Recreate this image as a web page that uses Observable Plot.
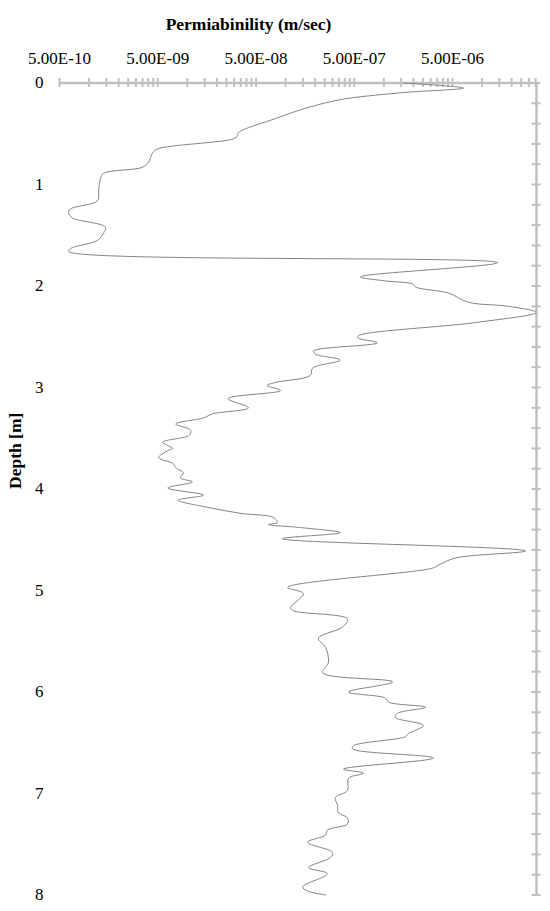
<!DOCTYPE html>
<html><head><meta charset="utf-8">
<script src="https://cdn.jsdelivr.net/npm/d3@7"></script>
<script src="https://cdn.jsdelivr.net/npm/@observablehq/plot@0.6"></script>
<style>body{margin:0;background:#fff} #chart svg{display:block}</style>
</head><body><div id="chart"></div>
<script>
const depth = [0.00,0.05,0.09,0.12,0.16,0.24,0.35,0.49,0.52,0.55,0.65,0.69,0.78,0.83,0.89,0.94,1.06,1.16,1.24,1.28,1.33,1.42,1.48,1.55,1.63,1.66,
1.77,1.91,1.95,1.98,2.01,2.07,2.16,2.20,2.26,2.36,2.49,2.51,2.56,2.64,2.67,2.73,2.81,2.88,2.95,2.98,3.03,3.11,3.20,3.26,3.30,3.36,3.42,3.47,3.54,3.60,3.62,3.69,3.75,3.79,3.84,3.89,3.93,3.99,
4.06,4.11,4.18,4.24,4.28,4.33,4.35,4.38,4.43,4.49,4.61,4.68,4.75,4.78,4.97,5.03,5.17,5.20,5.28,5.36,5.47,5.56,5.71,5.81,5.90,
6.00,6.06,6.10,6.15,6.21,6.25,6.33,6.41,6.44,6.53,6.56,6.65,6.76,6.80,6.85,6.97,7.04,7.12,7.19,7.24,7.30,7.36,7.41,7.48,7.58,7.63,7.73,7.79,7.92,7.96,8.00];
const permeability = [1.59e-6,6.47e-6,1.78e-6,8.2e-7,3.8e-7,1.71e-7,7.9e-8,3.3e-8,3.24e-8,2.95e-8,4.97e-9,4.42e-9,4.02e-9,3.5e-9,1.40e-9,1.31e-9,1.25e-9,1.22e-9,6.5e-10,6.2e-10,6.8e-10,1.47e-9,1.40e-9,1.22e-9,6.5e-10,6.2e-10,
1.44e-5,5.8e-7,1.04e-6,1.96e-6,2.1e-6,4.55e-6,7.27e-6,1.86e-5,3.55e-5,8.6e-6,5.5e-7,5.4e-7,8.6e-7,1.92e-7,2.0e-7,3.6e-7,1.88e-7,1.79e-7,7.9e-8,6.5e-8,8.9e-8,2.6e-8,4.2e-8,1.8e-8,1.46e-8,7.6e-9,1.08e-8,1.05e-8,5.6e-9,7.1e-9,6.4e-9,5.1e-9,7.2e-9,7.6e-9,9.1e-9,8.5e-9,1.13e-8,6.3e-9,
1.46e-8,8.1e-9,1.6e-8,3.5e-8,7.5e-8,8.3e-8,6.7e-8,1.42e-7,3.6e-7,9.3e-8,2.77e-5,5.36e-6,3.6e-6,3.13e-6,1.05e-7,1.52e-7,1.12e-7,1.2e-7,4.27e-7,3.8e-7,2.16e-7,2.55e-7,2.73e-7,2.38e-7,1.23e-6,
4.37e-7,1.04e-6,1.12e-6,2.66e-6,1.38e-6,1.31e-6,2.53e-6,1.78e-6,1.66e-6,4.9e-7,4.8e-7,3.2e-6,3.89e-7,6.2e-7,4.37e-7,4.27e-7,3.22e-7,3.38e-7,3.45e-7,4.27e-7,4.27e-7,2.67e-7,2.55e-7,1.67e-7,3.0e-7,2.87e-7,1.71e-7,2.67e-7,1.49e-7,1.67e-7,2.55e-7];

const xTickValues = [5e-10, 5e-9, 5e-8, 5e-7, 5e-6];
const xTickLabels = ["5.00E-10", "5.00E-09", "5.00E-08", "5.00E-07", "5.00E-06"];
const yTickValues = [0, 1, 2, 3, 4, 5, 6, 7, 8];
const xDomain = [5e-10, 3.58e-5];
const yDomain = [0, 8];
const titleText = "Permiabinility (m/sec)";
const yLabelText = "Depth [m]";

const rows = depth.map((d, i) => ({depth: d, k: permeability[i]}));
const xLabelRows = xTickValues.map((v, i) => ({v, label: xTickLabels[i]}));
const axisGray = "#c0c0c0";
const minorX = xTickValues.flatMap(m => d3.range(1, 10).map(j => m * j)).filter(v => v <= xDomain[1] * 1.0001);
const rightTicks = d3.range(0, 41).map(i => i * 0.2);

const chart = Plot.plot({
  width: 550,
  height: 911,
  marginTop: 82.5,
  marginLeft: 59,
  marginRight: 14,
  marginBottom: 16.5,
  style: {fontFamily: "'Liberation Serif', serif", fontSize: "17px", background: "#fff", color: "#000"},
  x: {type: "log", domain: xDomain, axis: null},
  y: {domain: yDomain, reverse: true, ticks: yTickValues, tickSize: 0, tickPadding: 16, label: null, tickFormat: d => String(d)},
  marks: [
    Plot.ruleY([yDomain[0]], {stroke: axisGray, strokeWidth: 2.5}),
    Plot.ruleX([xDomain[1]], {stroke: axisGray, strokeWidth: 2.5}),
    Plot.ruleX(minorX, {x: d => d, y1: yDomain[0], y2: yDomain[0], insetTop: -4.5, insetBottom: -4.5, stroke: axisGray, strokeWidth: 2}),
    Plot.ruleY(rightTicks, {y: d => d, x1: xDomain[1], x2: xDomain[1], insetLeft: -4.5, insetRight: -4.5, stroke: axisGray, strokeWidth: 2}),
    Plot.text(xLabelRows, {x: "v", y: () => yDomain[0], text: "label", dy: -24.5, fontSize: 17, fill: "#000"}),
    Plot.line(rows, {x: "k", y: "depth", curve: "catmull-rom", stroke: "#858585", strokeWidth: 1}),
    Plot.text([titleText], {text: d => d, frameAnchor: "top", dy: -65.5, dx: -49.5, fontWeight: "bold", fontSize: 17.5, fill: "#000"}),
    Plot.text([yLabelText], {text: d => d, frameAnchor: "left", dx: -44, rotate: -90, fontWeight: "bold", fontSize: 17.5, fill: "#000"})
  ]
});
document.getElementById("chart").appendChild(chart);
</script>
</body></html>
